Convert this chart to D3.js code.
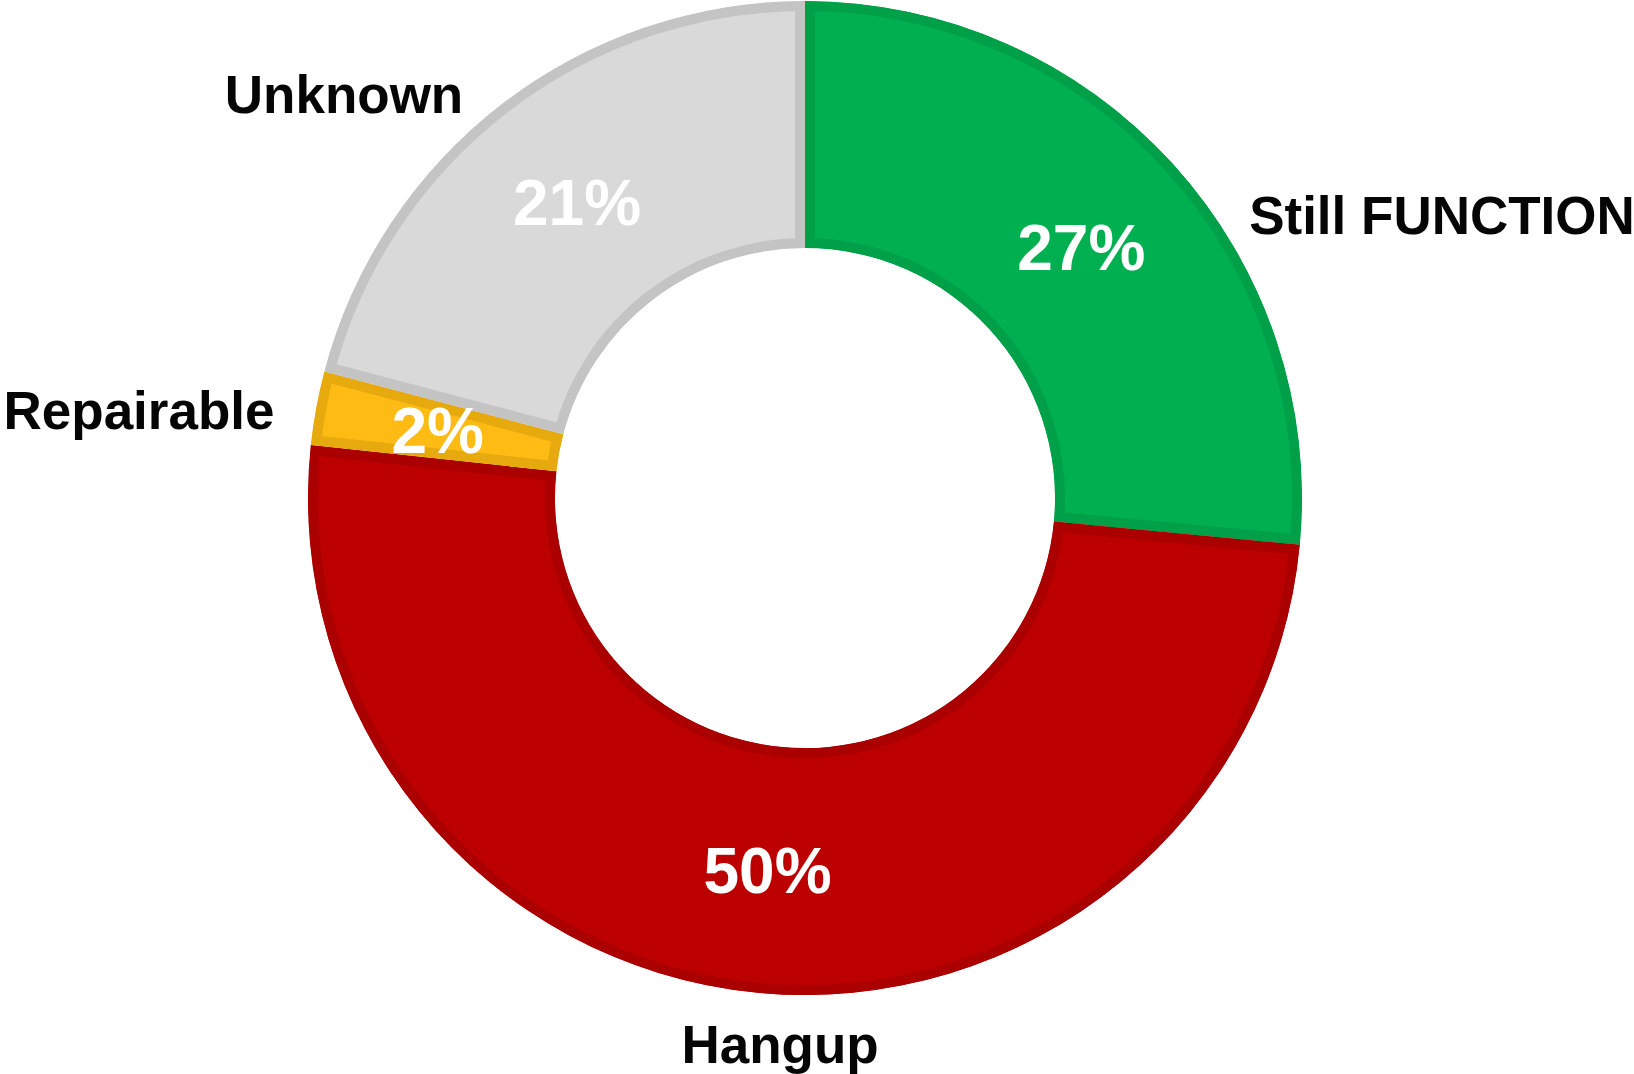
<!DOCTYPE html>
<html>
<head>
<meta charset="utf-8">
<script src="https://cdn.jsdelivr.net/npm/d3@7"></script>
<style>
  html, body { margin: 0; padding: 0; background: #ffffff; }
  svg { display: block; }
</style>
</head>
<body>
<svg id="chart" width="1634" height="1074"></svg>
<script>
// ---- data ----
const categories = ["Still FUNCTION", "Hangup", "Repairable", "Unknown"];
const values = [26.5, 50.2, 2.4, 20.9];
const percentLabels = ["27%", "50%", "2%", "21%"];

// ---- styles / layout ----
const fillColors = ["#00B050", "#BC0000", "#FDBB13", "#D9D9D9"];
const edgeColors = ["#00A048", "#AA0000", "#E6A90E", "#C4C4C4"];
const labelOffsets = [[637, -283], [-25, 546], [-666, -88], [-461, -404]];

const W = 1634, H = 1074;
const cx = 805, cy = 498, R = 497, r = 250;

const svg = d3.select("#chart");
const g = svg.append("g").attr("transform", `translate(${cx},${cy})`);

const data = categories.map((c, i) => ({ cat: c, value: values[i], label: percentLabels[i], i }));

const pie = d3.pie().value(d => d.value).sort(null).startAngle(0).endAngle(2 * Math.PI);
const arc = d3.arc().innerRadius(r).outerRadius(R);
const arcs = pie(data);

const defs = svg.append("defs");
arcs.forEach((a, k) => {
  defs.append("clipPath").attr("id", "clip" + k)
    .append("path").attr("d", arc(a));
});

g.selectAll("path.slice")
  .data(arcs)
  .join("path")
  .attr("class", "slice")
  .attr("d", arc)
  .attr("fill", d => fillColors[d.data.i])
  .attr("stroke", d => edgeColors[d.data.i])
  .attr("stroke-width", 20)
  .attr("stroke-linejoin", "miter")
  .attr("clip-path", (d, k) => `url(#clip${k})`);

// percent labels at centroid
g.selectAll("text.pct")
  .data(arcs)
  .join("text")
  .attr("class", "pct")
  .attr("x", d => arc.centroid(d)[0])
  .attr("y", d => arc.centroid(d)[1] + 23)
  .attr("text-anchor", "middle")
  .attr("font-family", "Liberation Sans, Arial, sans-serif")
  .attr("font-weight", "bold")
  .attr("font-size", 64)
  .attr("fill", "#ffffff")
  .text(d => d.data.label);

// category labels
g.selectAll("text.cat")
  .data(arcs)
  .join("text")
  .attr("class", "cat")
  .attr("x", d => labelOffsets[d.data.i][0])
  .attr("y", d => labelOffsets[d.data.i][1] + 19)
  .attr("text-anchor", "middle")
  .attr("font-family", "Liberation Sans, Arial, sans-serif")
  .attr("font-weight", "bold")
  .attr("font-size", 53)
  .attr("fill", "#050505")
  .text(d => d.data.cat);
</script>
</body>
</html>
